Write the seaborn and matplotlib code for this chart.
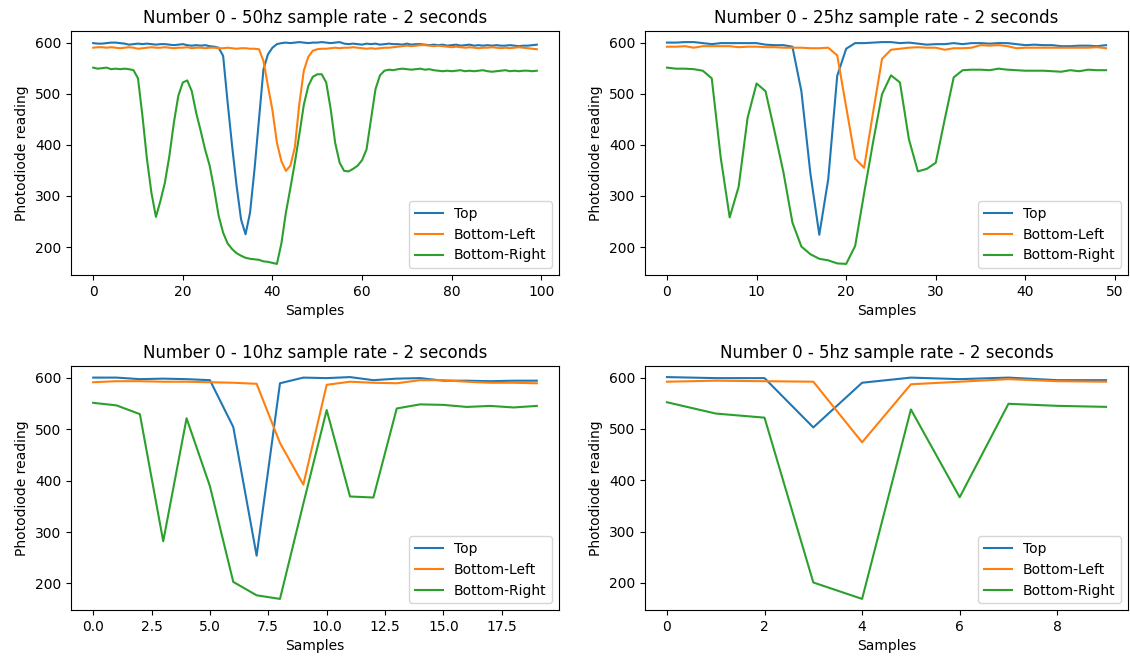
import numpy as np
import pandas as pd
import matplotlib
matplotlib.use("Agg")
import matplotlib.pyplot as plt
import seaborn as sns

series_names = ["Top", "Bottom-Left", "Bottom-Right"]

top_50 = [599, 598, 598, 599, 600, 600, 599, 598, 596, 597,
          598, 597, 598, 597, 596, 597, 597, 596, 595, 596,
          597, 595, 594, 595, 594, 595, 593, 592, 590, 574,
          483, 398, 320, 254, 225, 267, 352, 450, 548, 577,
          590, 597, 599, 600, 599, 600, 601, 600, 599, 600,
          600, 601, 600, 599, 600, 601, 598, 597, 598, 597,
          596, 598, 597, 598, 596, 597, 598, 597, 597, 596,
          598, 596, 597, 597, 596, 595, 596, 595, 596, 594,
          595, 596, 594, 595, 596, 594, 595, 594, 595, 594,
          595, 594, 594, 595, 594, 593, 594, 594, 595, 596]
bl_50 = [590, 591, 591, 590, 591, 590, 589, 590, 591, 590,
         588, 589, 590, 591, 590, 590, 591, 590, 589, 590,
         590, 591, 589, 590, 590, 589, 590, 590, 589, 589,
         590, 589, 588, 589, 589, 588, 588, 587, 564, 515,
         468, 404, 368, 349, 359, 395, 480, 545, 572, 584,
         587, 588, 588, 589, 590, 589, 590, 590, 591, 590,
         589, 588, 589, 588, 589, 590, 590, 591, 592, 593,
         594, 593, 594, 595, 595, 594, 593, 594, 593, 592,
         591, 592, 591, 590, 591, 590, 589, 590, 590, 591,
         590, 589, 590, 589, 590, 591, 590, 589, 588, 587]
br_50 = [551, 549, 550, 551, 548, 549, 548, 549, 548, 546,
         530, 456, 372, 306, 259, 290, 326, 378, 443, 496,
         522, 526, 505, 462, 427, 390, 359, 313, 261, 228,
         207, 196, 188, 183, 179, 177, 176, 175, 172, 171,
         169, 167, 207, 267, 315, 365, 420, 478, 515, 533,
         538, 538, 522, 470, 404, 365, 349, 348, 353, 359,
         370, 391, 450, 509, 536, 545, 547, 546, 548, 549,
         548, 547, 548, 549, 547, 548, 546, 545, 544, 545,
         544, 545, 546, 544, 545, 544, 545, 546, 544, 543,
         544, 545, 546, 544, 545, 544, 545, 545, 544, 545]

top_25 = [600, 600, 601, 601, 599, 597, 599, 599, 599, 599,
          599, 596, 595, 595, 592, 505, 345, 224, 333, 535,
          588, 599, 599, 600, 601, 601, 599, 600, 598, 596,
          597, 597, 599, 597, 599, 599, 598, 599, 599, 597,
          595, 596, 595, 595, 593, 593, 594, 594, 593, 595]
bl_25 = [592, 592, 593, 590, 593, 593, 593, 593, 591, 592,
         592, 591, 591, 590, 590, 590, 589, 589, 590, 575,
         474, 373, 355, 463, 568, 586, 588, 590, 591, 590,
         590, 586, 589, 589, 590, 595, 594, 595, 593, 589,
         590, 590, 590, 590, 590, 590, 590, 590, 591, 589]
br_25 = [551, 549, 549, 548, 545, 530, 375, 258, 318, 453,
         520, 505, 427, 346, 248, 201, 186, 177, 174, 168,
         167, 202, 305, 405, 499, 536, 522, 411, 348, 353,
         365, 450, 532, 546, 547, 547, 546, 549, 547, 546,
         545, 545, 545, 544, 543, 546, 544, 547, 546, 546]

top_10 = [600, 600, 597, 598, 597, 595, 504, 254, 589, 600,
          599, 601, 595, 598, 599, 594, 594, 593, 594, 594]
bl_10 = [591, 593, 593, 592, 592, 591, 590, 588, 473, 392,
         586, 592, 590, 589, 595, 595, 592, 590, 590, 589]
br_10 = [551, 546, 529, 282, 521, 389, 203, 177, 170, 355,
         537, 369, 367, 540, 548, 547, 543, 545, 542, 545]

top_5 = [601, 599, 599, 503, 590, 600, 597, 600, 595, 595]
bl_5 = [592, 594, 593, 592, 474, 587, 592, 597, 593, 592]
br_5 = [552, 530, 522, 201, 169, 538, 367, 549, 545, 543]

rates = ["50hz", "25hz", "10hz", "5hz"]
datasets = [(top_50, bl_50, br_50), (top_25, bl_25, br_25),
            (top_10, bl_10, br_10), (top_5, bl_5, br_5)]

W, H = 1130, 660
fig = plt.figure(figsize=(W / 100, H / 100), dpi=100)
# axes boxes in pixels: (left, top, right, bottom)
boxes = [(71, 31, 559, 275), (645, 31, 1128, 275),
         (71, 366, 559, 610), (645, 366, 1128, 610)]
palette = ["#1f77b4", "#ff7f0e", "#2ca02c"]

for box, rate, data in zip(boxes, rates, datasets):
    l, t, r, b = box
    ax = fig.add_axes([l / W, 1 - b / H, (r - l) / W, (b - t) / H])
    frames = []
    for name, vals in zip(series_names, data):
        frames.append(pd.DataFrame({"Samples": np.arange(len(vals)),
                                    "Photodiode reading": vals,
                                    "Sensor": name}))
    df = pd.concat(frames, ignore_index=True)
    sns.lineplot(data=df, x="Samples", y="Photodiode reading", hue="Sensor",
                 hue_order=series_names, palette=palette, ax=ax, linewidth=1.5)
    ax.set_title(f"Number 0 - {rate} sample rate - 2 seconds", fontsize=12)
    ax.set_xlabel("Samples")
    ax.set_ylabel("Photodiode reading")
    ax.legend(loc="lower right", fontsize=10)

fig.savefig("out.png", dpi=100)
